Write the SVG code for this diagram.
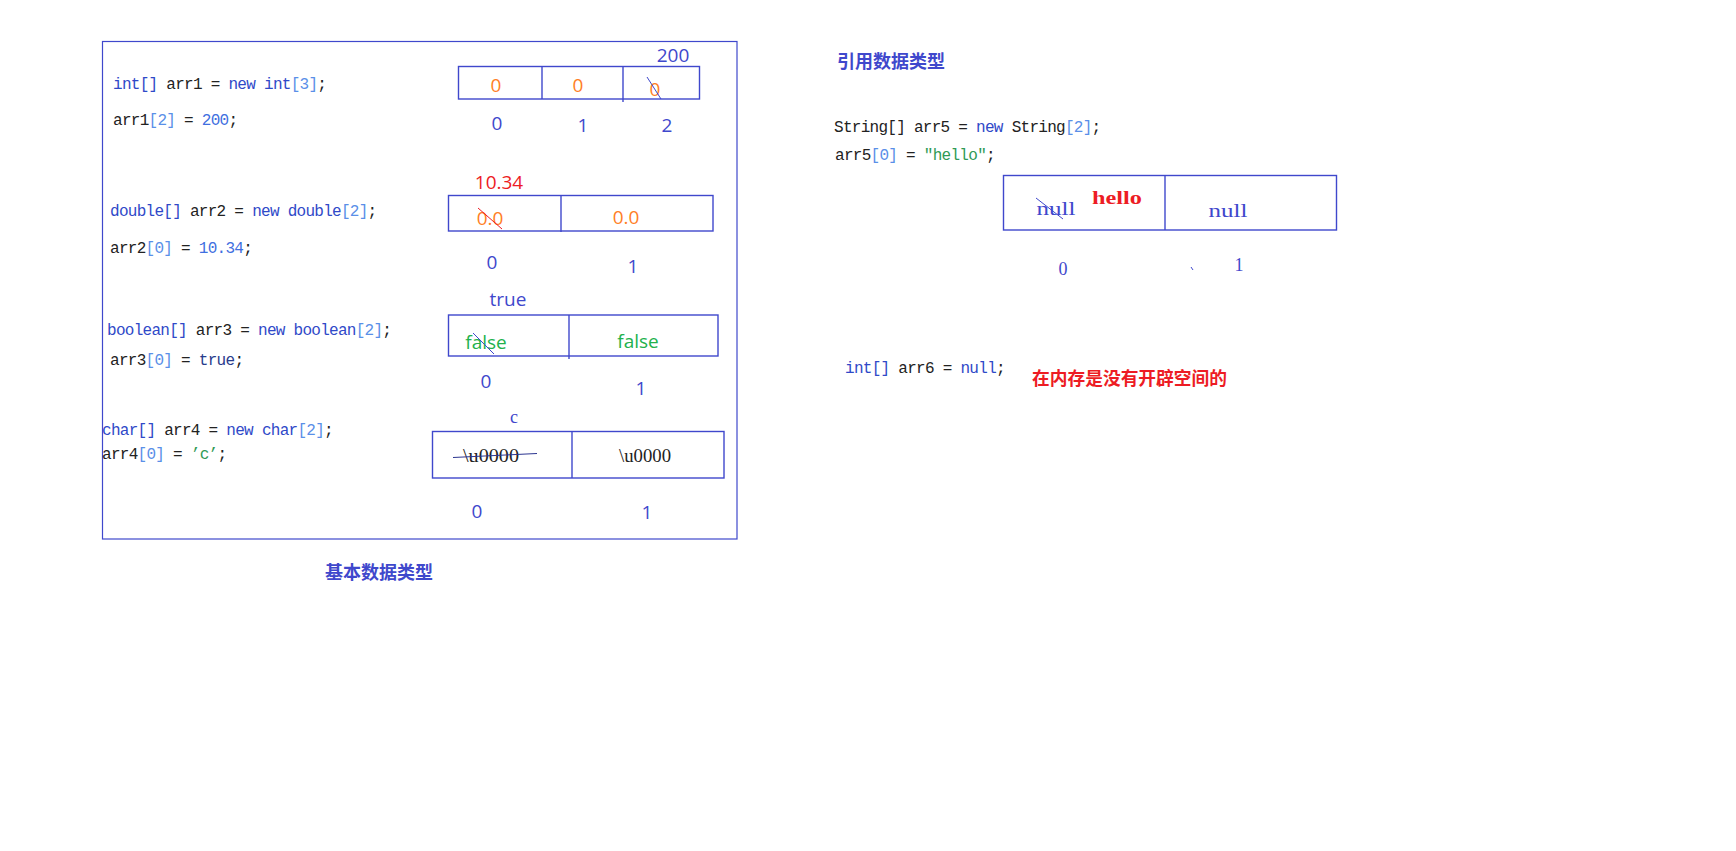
<svg xmlns="http://www.w3.org/2000/svg" width="1736" height="851" viewBox="0 0 1736 851">
<style>
  .bg{fill:#ffffff}
  .frame{fill:none;stroke:#3f48cc;stroke-width:1.2}
  .cell{fill:none;stroke:#3f48cc;stroke-width:1.4}
  .div{stroke:#3f48cc;stroke-width:1.4}
  .strike{stroke:#3f48cc;stroke-width:1}
  .code{font-family:"Liberation Mono","DejaVu Sans Mono",monospace;font-size:16px;letter-spacing:-0.72px;white-space:pre;fill:#222}
  .kw{fill:#2f49c8}
  .nm{fill:#5a8fe8}
  .n2{fill:#3f6fe0}
  .tr{fill:#283c8c}
  .st{fill:#2f9a55}
  .sans{font-family:"Open Sans","Noto Sans","Liberation Sans",sans-serif;font-size:19px;text-anchor:middle}
  .idx{fill:#3f48cc}
  .org{fill:#ff7f27}
  .red{fill:#ed1c24}
  .grn{fill:#22b14c}
  .serif{font-family:"Liberation Serif","DejaVu Serif",serif;font-size:18px;text-anchor:middle}
  .cjk{font-family:"Noto Sans CJK SC","Noto Sans",sans-serif;font-size:18px;font-weight:bold}
</style>
<rect class="bg" x="0" y="0" width="1736" height="851"/>

<g id="primitive-frame">
  <rect class="frame" x="102.5" y="41.5" width="634.5" height="497.5"/>
</g>

<g id="code-arr1">
  <text class="code" x="113" y="89"><tspan class="kw">int[]</tspan> arr1 = <tspan class="kw">new int</tspan><tspan class="nm">[3]</tspan>;</text>
  <text class="code" x="113" y="125">arr1<tspan class="nm">[2]</tspan> = <tspan class="n2">200</tspan>;</text>
</g>
<g id="array-arr1">
  <rect class="cell" x="458.5" y="66.5" width="241" height="32.5"/>
  <line class="div" x1="542" y1="66.5" x2="542" y2="99"/>
  <line class="div" x1="623" y1="67" x2="623" y2="102"/>
  <text class="sans org" x="496" y="92">0</text>
  <text class="sans org" x="578" y="92">0</text>
  <text class="sans org" x="655" y="96">0</text>
  <line class="strike" x1="647" y1="77" x2="661" y2="99"/>
  <text class="sans idx" x="673" y="62">200</text>
  <text class="sans idx" x="497" y="130">0</text>
  <text class="sans idx" x="583" y="132">1</text>
  <text class="sans idx" x="667" y="132">2</text>
</g>

<g id="code-arr2">
  <text class="code" x="110" y="216"><tspan class="kw">double[]</tspan> arr2 = <tspan class="kw">new double</tspan><tspan class="nm">[2]</tspan>;</text>
  <text class="code" x="110" y="253">arr2<tspan class="nm">[0]</tspan> = <tspan class="n2">10.34</tspan>;</text>
</g>
<g id="array-arr2">
  <rect class="cell" x="448.5" y="195.5" width="264.5" height="35.5"/>
  <line class="div" x1="561" y1="195.5" x2="561" y2="232"/>
  <text class="sans red" x="499" y="189">10.34</text>
  <text class="sans org" x="490" y="225">0.0</text>
  <text class="sans org" x="626" y="224">0.0</text>
  <line x1="478" y1="208" x2="502" y2="229" stroke="#ed1c24" stroke-width="1"/>
  <text class="sans idx" x="492" y="269">0</text>
  <text class="sans idx" x="633" y="273">1</text>
</g>

<g id="code-arr3">
  <text class="code" x="107" y="335"><tspan class="kw">boolean[]</tspan> arr3 = <tspan class="kw">new boolean</tspan><tspan class="nm">[2]</tspan>;</text>
  <text class="code" x="110" y="365">arr3<tspan class="nm">[0]</tspan> = <tspan class="tr">true</tspan>;</text>
</g>
<g id="array-arr3">
  <rect class="cell" x="448.5" y="315" width="269.5" height="41"/>
  <line class="div" x1="569" y1="315" x2="569" y2="359"/>
  <text class="sans idx" x="508" y="306">true</text>
  <text class="sans grn" x="486" y="349">false</text>
  <text class="sans grn" x="638" y="348">false</text>
  <line class="strike" x1="473" y1="333" x2="494" y2="354"/>
  <text class="sans idx" x="486" y="388">0</text>
  <text class="sans idx" x="641" y="395">1</text>
</g>

<g id="code-arr4">
  <text class="code" x="102" y="435"><tspan class="kw">char[]</tspan> arr4 = <tspan class="kw">new char</tspan><tspan class="nm">[2]</tspan>;</text>
  <text class="code" x="102" y="459">arr4<tspan class="nm">[0]</tspan> = <tspan class="st">’c’</tspan>;</text>
</g>
<g id="array-arr4">
  <rect class="cell" x="432.5" y="431.5" width="291.5" height="46.5"/>
  <line class="div" x1="572" y1="431.5" x2="572" y2="478"/>
  <text class="serif idx" x="514" y="423">c</text>
  <text class="serif" x="491" y="462" fill="#222" textLength="56" lengthAdjust="spacingAndGlyphs">\u0000</text>
  <text class="serif" x="645" y="462" fill="#222" textLength="52" lengthAdjust="spacingAndGlyphs">\u0000</text>
  <line x1="453" y1="457.5" x2="537" y2="453.5" stroke="#2c3590" stroke-width="1"/>
  <text class="sans idx" x="477" y="518">0</text>
  <text class="sans idx" x="647" y="519">1</text>
</g>

<g id="label-primitive">
  <text class="cjk" x="325" y="579" fill="#3f48cc">基本数据类型</text>
</g>

<g id="label-reference">
  <text class="cjk" x="837" y="68" fill="#3f48cc">引用数据类型</text>
</g>

<g id="code-arr5">
  <text class="code" x="834" y="132">String[] arr5 = <tspan class="kw">new</tspan> String<tspan class="nm">[2]</tspan>;</text>
  <text class="code" x="835" y="160">arr5<tspan class="nm">[0]</tspan> = <tspan class="st">"hello"</tspan>;</text>
</g>
<g id="array-arr5">
  <rect class="cell" x="1003.5" y="175.5" width="333" height="54.5"/>
  <line class="div" x1="1165" y1="175.5" x2="1165" y2="230"/>
  <text class="serif idx" x="1056" y="215" textLength="39" lengthAdjust="spacingAndGlyphs">null</text>
  <line class="strike" x1="1036" y1="198" x2="1063" y2="219"/>
  <text class="serif" x="1117" y="204" fill="#ed1c24" font-weight="bold" textLength="50" lengthAdjust="spacingAndGlyphs">hello</text>
  <text class="serif idx" x="1228" y="217" textLength="39" lengthAdjust="spacingAndGlyphs">null</text>
  <text class="serif idx" x="1063" y="275">0</text>
  <text class="serif idx" x="1239" y="271">1</text>
  <line x1="1191" y1="267" x2="1193" y2="270" stroke="#3f48cc" stroke-width="1"/>
</g>

<g id="code-arr6">
  <text class="code" x="845" y="373"><tspan class="kw">int[]</tspan> arr6 = <tspan class="kw">null</tspan>;</text>
  <text class="cjk" x="1032" y="385" fill="#ed1c24" textLength="195" lengthAdjust="spacingAndGlyphs">在内存是没有开辟空间的</text>
</g>

<g id="connectors"></g>
</svg>
